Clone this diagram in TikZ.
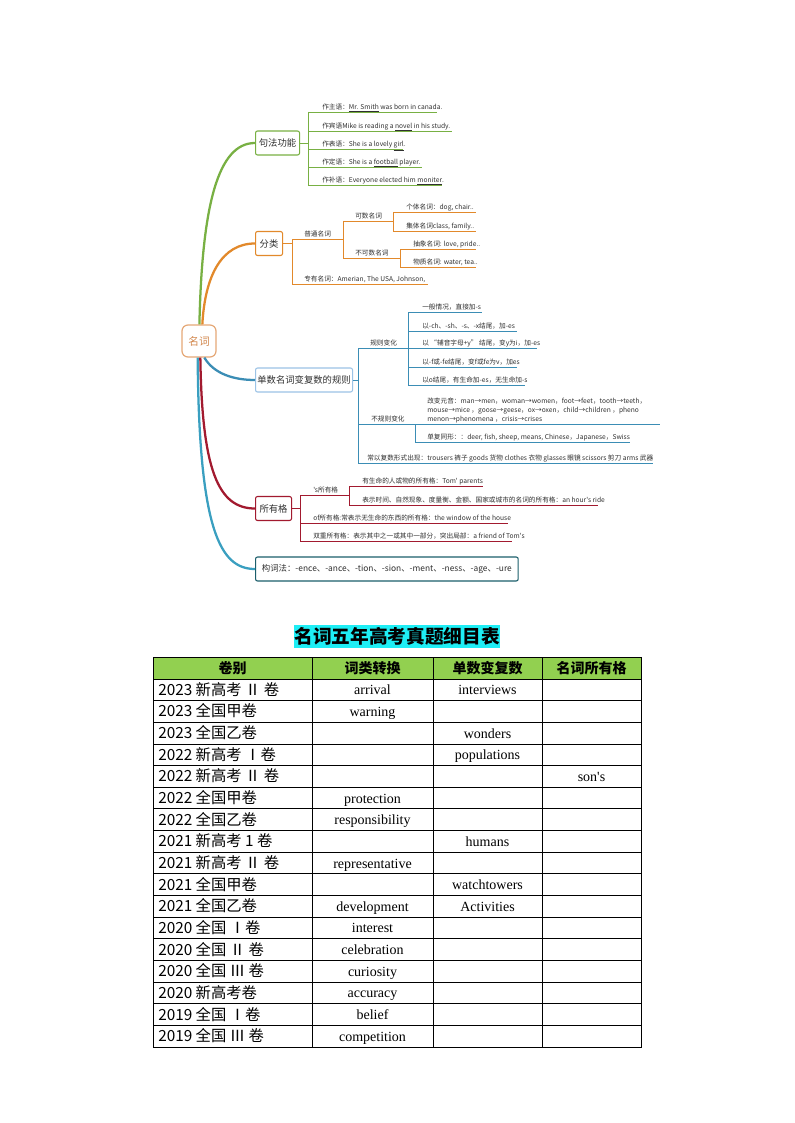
\documentclass[tikz,border=0pt]{standalone}
\usepackage{fontspec}
\setmainfont{Liberation Serif}[Ligatures=TeXOff]
\newfontfamily\cjk{Noto Sans CJK SC}
\definecolor{cgreen}{HTML}{78B043}
\definecolor{corange}{HTML}{E2892B}
\definecolor{cblue}{HTML}{3B8DB5}
\definecolor{cblueb}{HTML}{9CC3E6}
\definecolor{cred}{HTML}{A21A2F}
\definecolor{cteal}{HTML}{3A9FC0}
\definecolor{ctealb}{HTML}{1B5E6B}
\definecolor{croot}{HTML}{E5A877}
\definecolor{croott}{HTML}{D2874D}
\definecolor{chead}{HTML}{92D050}
\definecolor{ccyan}{HTML}{1EEEF5}
\definecolor{ctext}{HTML}{303030}
\tikzset{
  lf/.style={font=\cjk\fontsize{5}{6.75}\selectfont, inner sep=0pt, anchor=base west, text=ctext},
  bx/.style={draw, rounded corners=1.5pt, fill=white, font=\cjk\fontsize{7}{8}\selectfont,
    inner sep=0pt, minimum height=18pt, anchor=west, line width=0.8pt, text=ctext},
  ul/.style={line width=0.6pt},
  curve/.style={line width=1.7pt},
  cellL/.style={font=\cjk\fontsize{11.5}{13}\selectfont, inner sep=0pt, anchor=base west},
  cellC/.style={font=\fontsize{10.5}{12}\selectfont, inner sep=0pt, anchor=base},
  headT/.style={font=\cjk\bfseries\fontsize{10.5}{12}\selectfont, inner sep=0pt},
}
\newcommand\leafline[7]{%
  \draw[#2,ul] (#3,#5) -- (#4,#5);
  \node[lf] (#1) at (#6,#5-2.5) {#7};}
\begin{document}
\begin{tikzpicture}[x=0.75pt,y=-0.75pt]
\fill[white] (0,0) rectangle (794,1123);
\useasboundingbox (0,0) rectangle (794,1123);

% ---------- root and branch boxes ----------
\node[draw=croot, line width=0.9pt, rounded corners=4.5pt, minimum width=25.5pt,
  minimum height=24pt, font=\cjk\fontsize{8}{9}\selectfont, text=croott, inner sep=0pt,
  fill=white] (root) at (199,341) {名词};
\node[bx, draw=cgreen, minimum width=33pt] (b1) at (255,143) {句法功能};
\node[bx, draw=corange, minimum width=20.25pt] (b2) at (255,243.5) {分类};
\node[bx, draw=cblueb, minimum width=72.75pt] (b3) at (255,380) {单数名词变复数的规则};
\node[bx, draw=cred, minimum width=27pt] (b4) at (255,508.5) {所有格};
\node[bx, draw=ctealb, minimum width=197pt, font=\cjk\fontsize{6.3}{8}\selectfont] (b5) at (255,569) {构词法：-ence、-ance、-tion、-sion、-ment、-ness、-age、-ure};

% ---------- curves ----------
\draw[cgreen,curve] ([xshift=0.3pt]root.north) .. controls (202,205) and (218,143) .. (b1.west);
\draw[corange,curve] ([xshift=2.5pt]root.north) .. controls (205,275) and (222,243.5) .. (b2.west);
\draw[cblue,curve] ([xshift=4pt]root.south) .. controls (214,374) and (234,380) .. (b3.west);
\draw[cteal,curve] ([xshift=-1pt]root.south) .. controls (199,530) and (220,569) .. (b5.west);
\draw[cred,curve] ([xshift=1pt]root.south) .. controls (202,470) and (218,508.5) .. (b4.west);

% ---------- branch 1 ----------
\coordinate (k1) at (308,143);
\draw[cgreen,ul] (b1.east) -- (k1);
\draw[cgreen,ul] (308,112) -- (308,185);
\leafline{l11}{cgreen}{308}{437}{112}{322}{作主语：\underline{Mr. Smith} was born in canada.}
\leafline{l12}{cgreen}{308}{452}{131}{322}{作宾语Mike is reading a \underline{novel} in his study.}
\leafline{l13}{cgreen}{308}{403}{149}{322}{作表语：She is a lovely \underline{girl}.}
\leafline{l14}{cgreen}{308}{422}{167}{322}{作定语：She is a \underline{football} player.}
\leafline{l15}{cgreen}{308}{442}{185}{322}{作补语：Everyone elected him \underline{moniter}.}

% ---------- branch 2 ----------
\coordinate (k2) at (292,243.5);
\draw[corange,ul] (b2.east) -- (k2);
\draw[corange,ul] (292,239) -- (292,284);
\leafline{l21}{corange}{292}{343}{239}{304}{普通名词}
\draw[corange,ul] (343,221) -- (343,258);
\leafline{l22}{corange}{343}{393}{221}{355}{可数名词}
\leafline{l23}{corange}{343}{400}{258}{355}{不可数名词}
\draw[corange,ul] (393,212) -- (393,231);
\leafline{l24}{corange}{393}{476}{212}{406}{个体名词：dog, chair..}
\leafline{l25}{corange}{393}{476}{231}{406}{集体名词class, family..}
\draw[corange,ul] (400,249) -- (400,267);
\leafline{l26}{corange}{400}{476}{249}{413}{抽象名词: love, pride..}
\leafline{l27}{corange}{400}{476}{267}{413}{物质名词: water, tea..}
\leafline{l28}{corange}{292}{428}{284}{304}{专有名词：Amerian, The USA, Johnson,}

% ---------- branch 3 ----------
\coordinate (k3) at (358,380);
\draw[cblue,ul] (b3.east) -- (k3);
\draw[cblue,ul] (358,348) -- (358,463);
\leafline{l31}{cblue}{358}{408}{348}{370}{规则变化}
\draw[cblue,ul] (408,312) -- (408,385);
\leafline{l32}{cblue}{408}{482}{312}{422}{一般情况，直接加-s}
\leafline{l33}{cblue}{408}{517}{331}{422}{以-ch、-sh、-s、-x结尾，加-es}
\leafline{l34}{cblue}{408}{537}{348}{422}{以 “辅音字母+y” 结尾，变y为i，加-es}
\leafline{l35}{cblue}{408}{517}{367}{422}{以-f或-fe结尾，变f或fe为v，加es}
\leafline{l36}{cblue}{408}{525}{385}{422}{以o结尾，有生命加-es，无生命加-s}
\leafline{l37}{cblue}{358}{415}{424}{371}{不规则变化}
\draw[cblue,ul] (415,424) -- (415,442);
\node[lf] (l38a) at (427,403.5) {改变元音：man→men，woman→women，foot→feet，tooth→teeth，};
\node[lf] (l38b) at (427,412.5) {mouse→mice ，goose→geese，ox→oxen，child→children ，pheno};
\leafline{l38c}{cblue}{415}{660}{424}{427}{menon→phenomena ，crisis→crises}
\leafline{l39}{cblue}{415}{630}{442}{427}{单复同形：：deer, fish, sheep, means, Chinese，Japanese，Swiss}
\leafline{l310}{cblue}{358}{653}{463}{367}{常以复数形式出现：trousers 裤子 goods 货物 clothes 衣物 glasses 眼镜 scissors 剪刀 arms 武器}

% ---------- branch 4 ----------
\coordinate (k4) at (300,508.5);
\draw[cred,ul] (b4.east) -- (k4);
\draw[cred,ul] (300,495) -- (300,541);
\leafline{l41}{cred}{300}{349}{495}{313}{'s所有格}
\draw[cred,ul] (349,486) -- (349,505);
\leafline{l42}{cred}{349}{483}{486}{362}{有生命的人或物的所有格：Tom' parents}
\leafline{l43}{cred}{349}{598}{505}{362}{表示时间、自然现象、度量衡、金额、国家或城市的名词的所有格：an hour's ride}
\leafline{l44}{cred}{300}{508}{523}{313}{of所有格:常表示无生命的东西的所有格：the window of the house}
\leafline{l45}{cred}{300}{512}{541}{313}{双重所有格：表示其中之一或其中一部分，突出局部：a friend of Tom's}

% ---------- title ----------
\node[fill=ccyan, inner sep=0pt, minimum width=154.5pt, minimum height=17.25pt,
  font=\cjk\bfseries\fontsize{14}{16}\selectfont] (title) at (397,636.5) {名词五年高考真题细目表};

% ---------- table ----------
\fill[chead] (153,657) rectangle (641,679);
\draw[line width=0.6pt] (153,657) rectangle (641,1047);
\foreach \k in {0,...,16} {
  \draw[line width=0.6pt] (153,{679+\k*21.647}) -- (641,{679+\k*21.647});
}
\foreach \xx in {312,433,542} {
  \draw[line width=0.6pt] (\xx,657) -- (\xx,1047);
}
\node[headT] (h1) at (232.5,668) {卷别};
\node[headT] (h2) at (372.5,668) {词类转换};
\node[headT] (h3) at (487.5,668) {单数变复数};
\node[headT] (h4) at (591.5,668) {名词所有格};

\foreach \i/\a/\b/\c/\d in {
  1/{2023 新高考 Ⅱ 卷}/{arrival}/{interviews}/{},
  2/{2023 全国甲卷}/{warning}/{}/{},
  3/{2023 全国乙卷}/{}/{wonders}/{},
  4/{2022 新高考 Ⅰ卷}/{}/{populations}/{},
  5/{2022 新高考 Ⅱ 卷}/{}/{}/{son's},
  6/{2022 全国甲卷}/{protection}/{}/{},
  7/{2022 全国乙卷}/{responsibility}/{}/{},
  8/{2021 新高考 1 卷}/{}/{humans}/{},
  9/{2021 新高考 Ⅱ 卷}/{representative}/{}/{},
  10/{2021 全国甲卷}/{}/{watchtowers}/{},
  11/{2021 全国乙卷}/{development}/{Activities}/{},
  12/{2020 全国 Ⅰ卷}/{interest}/{}/{},
  13/{2020 全国 Ⅱ 卷}/{celebration}/{}/{},
  14/{2020 全国 Ⅲ 卷}/{curiosity}/{}/{},
  15/{2020 新高考卷}/{accuracy}/{}/{},
  16/{2019 全国 Ⅰ卷}/{belief}/{}/{},
  17/{2019 全国 Ⅲ 卷}/{competition}/{}/{}} {
  \pgfmathsetmacro\yc{679+(\i-0.5)*21.647}
  \node[cellL] (c\i a) at (158,\yc+5.5) {\a};
  \node[cellC] (c\i b) at (372.5,\yc+5) {\b};
  \node[cellC] (c\i c) at (487.5,\yc+5) {\c};
  \node[cellC] (c\i d) at (591.5,\yc+5) {\d};
}
\end{tikzpicture}
\end{document}
